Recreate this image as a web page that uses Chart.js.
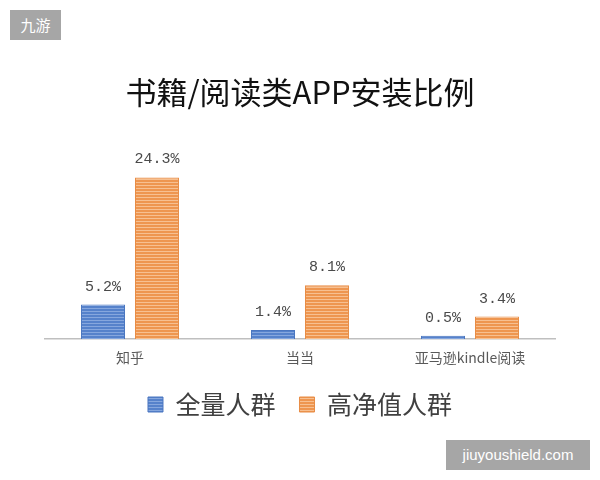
<!DOCTYPE html>
<html>
<head>
<meta charset="utf-8">
<script src="https://cdn.jsdelivr.net/npm/chart.js@4.4.1/dist/chart.umd.min.js"></script>
<style>
    html, body { margin: 0; padding: 0; background: #fff; }
    #wrap { position: relative; width: 600px; height: 480px; }
    .mark {
        position: absolute;
        background: #a6a6a6;
        color: #fff;
        font-family: "Liberation Sans", "Noto Sans CJK SC", sans-serif;
        font-size: 15px;
        line-height: 30px;
        text-align: center;
    }
</style>
</head>
<body>
<div id="wrap">
    <canvas id="chart" width="600" height="480"></canvas>
    <div class="mark" style="left:10px; top:10px; width:51px; font-family:'Noto Sans CJK SC';">九游</div>
    <div class="mark" style="left:446px; top:440px; width:144px;">jiuyoushield.com</div>
</div>
<script>
// Chart data
const categories = ['知乎', '当当', '亚马逊kindle阅读'];
const allUsers = [5.2, 1.4, 0.5];
const highNetWorth = [24.3, 8.1, 3.4];
const seriesNames = ['全量人群', '高净值人群'];

// Striped fill like the original bars
function makeStripes(base, line) {
    const c = document.createElement('canvas');
    c.width = 4;
    c.height = 3;
    const ctx = c.getContext('2d');
    ctx.fillStyle = base;
    ctx.fillRect(0, 0, 4, 3);
    ctx.fillStyle = line;
    ctx.fillRect(0, 2, 4, 1);
    return ctx.createPattern(c, 'repeat');
}

const blueFill = makeStripes('#5682cb', '#86a7de');
const orangeFill = makeStripes('#ee9650', '#f7c091');

// Value labels above bars
const valueLabels = {
    id: 'valueLabels',
    afterDatasetsDraw(chart) {
        const ctx = chart.ctx;
        ctx.save();
        ctx.font = '15px "Liberation Mono", "DejaVu Sans Mono", monospace';
        ctx.fillStyle = '#4a4a4a';
        ctx.textAlign = 'center';
        ctx.textBaseline = 'middle';
        chart.data.datasets.forEach((ds, i) => {
            const meta = chart.getDatasetMeta(i);
            meta.data.forEach((bar, j) => {
                ctx.fillText(ds.data[j].toFixed(1) + '%', bar.x, bar.y - 18);
            });
        });
        ctx.restore();
    }
};

new Chart(document.getElementById('chart'), {
    type: 'bar',
    data: {
        labels: categories,
        datasets: [{
            label: seriesNames[0],
            data: allUsers,
            backgroundColor: blueFill,
            borderColor: '#4a76c0',
            borderWidth: 1
        }, {
            label: seriesNames[1],
            data: highNetWorth,
            backgroundColor: orangeFill,
            borderColor: '#e88c45',
            borderWidth: 1
        }]
    },
    options: {
        responsive: false,
        animation: false,
        categoryPercentage: 0.635,
        barPercentage: 0.815,
        layout: {
            padding: { left: 45, right: 45, top: 0, bottom: 53 }
        },
        plugins: {
            title: {
                display: true,
                text: '书籍/阅读类APP安装比例',
                color: '#111',
                font: { family: '"Noto Sans CJK SC"', size: 31, weight: 'normal' },
                padding: { top: 74, bottom: 39 }
            },
            legend: {
                position: 'bottom',
                labels: {
                    color: '#404040',
                    boxWidth: 15,
                    boxHeight: 15,
                    padding: 24,
                    font: { family: '"Noto Sans CJK SC"', size: 25 }
                }
            },
            tooltip: { enabled: false }
        },
        scales: {
            x: {
                grid: { display: false },
                border: { display: true, color: '#bfbfbf', width: 1.5 },
                ticks: {
                    color: '#595959',
                    padding: 2,
                    font: { family: '"Noto Sans CJK SC"', size: 14 }
                }
            },
            y: {
                display: false,
                min: 0,
                max: 28.4
            }
        }
    },
    plugins: [valueLabels]
});
</script>
</body>
</html>
